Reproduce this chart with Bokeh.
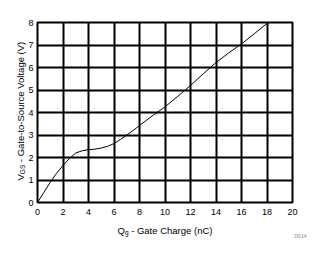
import math
from bokeh.plotting import figure
from bokeh.models import Label, Range1d, FixedTicker
from bokeh.embed import file_html
from bokeh.resources import INLINE

# Gate charge (nC) and gate-to-source voltage (V)
qg = [0, 0.5, 1, 1.5, 2, 2.5, 3, 3.5, 4, 4.5, 5, 5.5, 6, 6.5, 7, 7.5, 8, 9, 10, 11, 12, 13, 14, 15, 16, 17, 18.1]
vgs = [0, 0.45, 0.9, 1.3, 1.65, 1.95, 2.2, 2.3, 2.35, 2.37, 2.42, 2.5, 2.62, 2.8, 3.0, 3.2, 3.42, 3.85, 4.25, 4.72, 5.2, 5.72, 6.22, 6.65, 7.05, 7.5, 8.0]
x_ticks = [0, 2, 4, 6, 8, 10, 12, 14, 16, 18, 20]
y_ticks = [0, 1, 2, 3, 4, 5, 6, 7, 8]

FONT = "Liberation Sans"
FS = "9.5px"
SUB = "6.5px"

p = figure(width=322, height=255, output_backend="svg", toolbar_location=None,
           x_range=Range1d(0, 20), y_range=Range1d(0, 8),
           min_border_left=37, min_border_right=30, min_border_top=22, min_border_bottom=53)
p.background_fill_color = "white"
p.border_fill_color = "white"
p.outline_line_color = "black"
p.outline_line_width = 2

for ax, ticks, standoff in ((p.xaxis, x_ticks, 6), (p.yaxis, y_ticks, 4)):
    ax.ticker = FixedTicker(ticks=ticks)
    ax.major_tick_out = 0
    ax.major_tick_in = 0
    ax.minor_tick_out = 0
    ax.minor_tick_in = 0
    ax.axis_line_color = None
    ax.major_label_standoff = standoff
    ax.major_label_text_font = FONT
    ax.major_label_text_font_size = "9px"
    ax.major_label_text_color = "black"

p.grid.grid_line_color = "black"
p.grid.grid_line_width = 2
p.grid.grid_line_alpha = 1.0
p.xgrid.ticker = FixedTicker(ticks=x_ticks)
p.ygrid.ticker = FixedTicker(ticks=y_ticks)

p.line(qg, vgs, line_color="black", line_width=1)

# pixel -> data helpers (frame: x 37..292 for 0..20, y 202..22 for 0..8)
def dx(px):
    return (px - 37) * 20.0 / 255.0

def dy(py):
    return (202 - py) * 8.0 / 180.0

def lab(text, px, py, size, side, angle=0, color="black"):
    p.add_layout(Label(x=dx(px), y=dy(py), text=text,
                       text_font=FONT, text_font_size=size, text_color=color,
                       text_align="left", text_baseline="alphabetic", angle=angle), side)

fs = 9.5
space = 0.278 * fs

# x axis label: Q_g - Gate Charge (nC)
sx = 117
lab("Q", sx, 229.5, FS, "below")
lab("g", sx + 0.778 * fs, 231.5, SUB, "below")
lab("- Gate Charge (nC)", sx + 0.778 * fs + 0.556 * 6.5 + space, 229.5, FS, "below")

# y axis label: V_GS - Gate-to-Source Voltage (V)
a = math.pi / 2
sy = 180
lab("V", 19.5, sy, FS, "left", angle=a)
lab("GS", 21.5, sy - 0.667 * fs, SUB, "right", angle=a)
lab("- Gate-to-Source Voltage (V)", 19.5, sy - 0.667 * fs - 1.445 * 6.5 - space, FS, "left", angle=a)

lab("D014", 294, 235, "5px", "right", color="#888888")

open("out.html", "w").write(file_html(p, INLINE))
